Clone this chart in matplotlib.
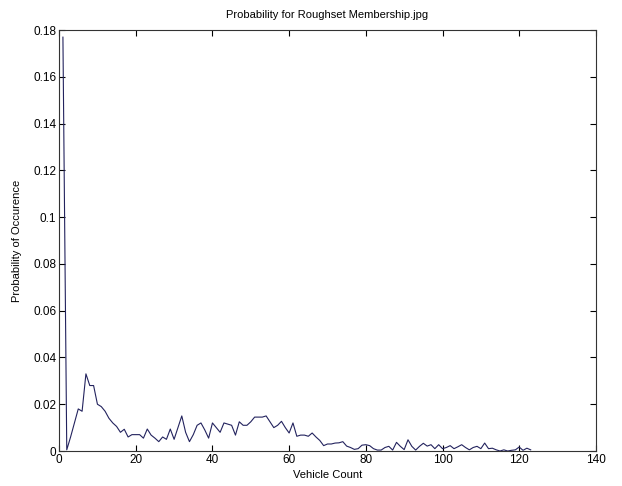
import matplotlib
matplotlib.use("Agg")
import matplotlib.pyplot as plt

# vehicle count (x) and probability of occurrence (y)
counts = list(range(1, 124))
probs = [
    0.177, 0.0005, 0.006, 0.012, 0.018, 0.017, 0.033, 0.028, 0.028, 0.020,
    0.019, 0.017, 0.014, 0.012, 0.0105, 0.008, 0.0093, 0.006, 0.007, 0.007,
    0.007, 0.0055, 0.0094, 0.0068, 0.0055, 0.004, 0.006, 0.005, 0.0094, 0.005,
    0.010, 0.015, 0.008, 0.004, 0.007, 0.011, 0.012, 0.009, 0.0055, 0.012,
    0.010, 0.008, 0.012, 0.0115, 0.011, 0.0068, 0.0125, 0.011, 0.011, 0.0125,
    0.0145, 0.0145, 0.0145, 0.015, 0.0125, 0.010, 0.011, 0.0127, 0.010, 0.0077,
    0.012, 0.0063, 0.0068, 0.0068, 0.0063, 0.0077, 0.006, 0.0045, 0.0023, 0.003,
    0.003, 0.0034, 0.0035, 0.004, 0.0021, 0.0015, 0.0007, 0.001, 0.0025, 0.0027,
    0.0023, 0.001, 0.0004, 0.0004, 0.0015, 0.002, 0.0004, 0.0037, 0.002, 0.0006,
    0.0048, 0.002, 0.0004, 0.002, 0.0033, 0.0021, 0.0027, 0.001, 0.0027, 0.001,
    0.0015, 0.0023, 0.001, 0.0018, 0.0027, 0.0015, 0.0005, 0.0015, 0.002, 0.001,
    0.0034, 0.001, 0.0012, 0.0005, 0.0, 0.0005, 0.0, 0.0003, 0.0005, 0.0017,
    0.0003, 0.0012, 0.0005,
]

x_ticks = list(range(0, 141, 20))
y_ticks = [0, 0.02, 0.04, 0.06, 0.08, 0.1, 0.12, 0.14, 0.16, 0.18]
y_labels = ["0", "0.02", "0.04", "0.06", "0.08", "0.1", "0.12", "0.14", "0.16", "0.18"]

plt.rcParams["font.family"] = ["Liberation Sans", "DejaVu Sans"]
plt.rcParams["font.size"] = 8

fig = plt.figure(figsize=(6.22, 4.86), dpi=100)
ax = fig.add_axes([0.095, 0.072, 0.863, 0.866])

ax.plot(counts, probs, color="#23235e", linewidth=0.8)

ax.set_xlim(0, 140)
ax.set_ylim(0, 0.18)
ax.set_xticks(x_ticks)
ax.set_yticks(y_ticks)
ax.set_yticklabels(y_labels)
ax.tick_params(direction="in", top=True, right=True, length=4, width=0.8,
               labelsize=8.5, pad=2)

for sp in ax.spines.values():
    sp.set_color("#333333")
    sp.set_linewidth(0.8)

ax.set_title("Probability for Roughset Membership.jpg", fontsize=8, pad=9)
ax.set_xlabel("Vehicle Count", fontsize=8, labelpad=3)
ax.set_ylabel("Probability of Occurence", fontsize=8, labelpad=8)

fig.savefig("out.png", dpi=100)
